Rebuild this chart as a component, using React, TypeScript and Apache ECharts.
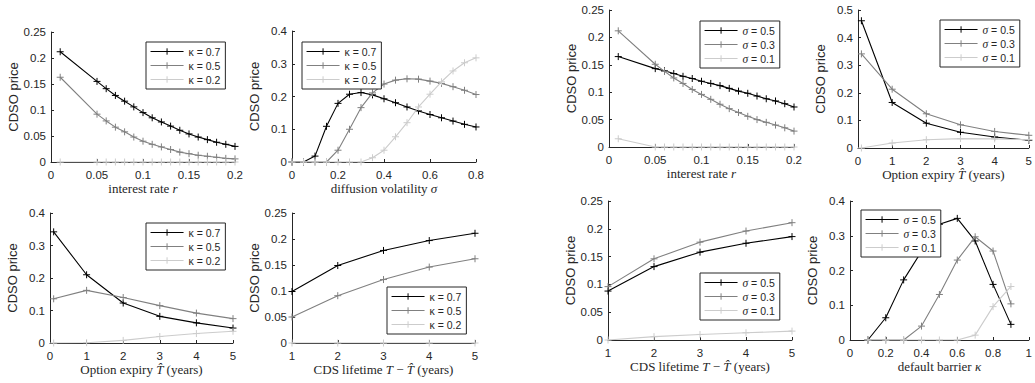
import React, { useEffect, useRef } from "react";
import * as echarts from "echarts";

// x grids
const rateGrid = [0.01, 0.05, 0.06, 0.07, 0.08, 0.09, 0.1, 0.11, 0.12, 0.13, 0.14, 0.15, 0.16, 0.17, 0.18, 0.19, 0.2];
const volGrid = [0, 0.05, 0.1, 0.15, 0.2, 0.25, 0.3, 0.35, 0.4, 0.45, 0.5, 0.55, 0.6, 0.65, 0.7, 0.75, 0.8];
const expiryGrid = [0.1, 1, 2, 3, 4, 5];
const lifetimeGrid = [1, 2, 3, 4, 5];
const barrierGrid = [0.1, 0.2, 0.3, 0.4, 0.5, 0.6, 0.7, 0.8, 0.9];

const kappaLabels = ["κ = 0.7", "κ = 0.5", "κ = 0.2"];
const sigmaLabels = ["σ = 0.5", "σ = 0.3", "σ = 0.1"];

// CDSO price vs interest rate, for three barriers
const rateK07 = [0.212, 0.155, 0.141, 0.128, 0.117, 0.106, 0.095, 0.085, 0.077, 0.069, 0.061, 0.054, 0.048, 0.043, 0.038, 0.034, 0.03];
const rateK05 = [0.163, 0.092, 0.079, 0.067, 0.058, 0.048, 0.04, 0.034, 0.029, 0.024, 0.019, 0.016, 0.013, 0.011, 0.009, 0.007, 0.006];
const rateK02 = [0, 0, 0, 0, 0, 0, 0, 0, 0, 0, 0, 0, 0, 0, 0, 0, 0];

// CDSO price vs diffusion volatility
const volK07 = [0, 0, 0.018, 0.109, 0.179, 0.207, 0.212, 0.205, 0.193, 0.181, 0.168, 0.156, 0.145, 0.135, 0.125, 0.115, 0.107];
const volK05 = [0, 0, 0, 0, 0.036, 0.1, 0.166, 0.211, 0.238, 0.25, 0.254, 0.253, 0.247, 0.24, 0.23, 0.219, 0.206];
const volK02 = [0, 0, 0, 0, 0, 0, 0, 0.013, 0.036, 0.077, 0.12, 0.168, 0.207, 0.245, 0.278, 0.303, 0.318];

// CDSO price vs option expiry
const expK07 = [0.342, 0.21, 0.123, 0.082, 0.062, 0.046];
const expK05 = [0.136, 0.162, 0.14, 0.115, 0.092, 0.075];
const expK02 = [0, 0.001, 0.008, 0.02, 0.029, 0.036];

// CDSO price vs CDS lifetime
const lifeK07 = [0.099, 0.149, 0.178, 0.197, 0.211];
const lifeK05 = [0.05, 0.091, 0.122, 0.146, 0.162];
const lifeK02 = [0, 0, 0, 0, 0];

// Same sweeps for three volatilities
const rateS05 = [0.165, 0.143, 0.139, 0.134, 0.129, 0.125, 0.12, 0.116, 0.112, 0.107, 0.102, 0.098, 0.093, 0.088, 0.084, 0.079, 0.073];
const rateS03 = [0.212, 0.151, 0.138, 0.126, 0.116, 0.105, 0.096, 0.087, 0.078, 0.07, 0.063, 0.056, 0.05, 0.045, 0.04, 0.035, 0.029];
const rateS01 = [0.015, 0, 0, 0, 0, 0, 0, 0, 0, 0, 0, 0, 0, 0, 0, 0, 0];

const expS05 = [0.461, 0.165, 0.09, 0.057, 0.04, 0.028];
const expS03 = [0.341, 0.213, 0.124, 0.084, 0.06, 0.046];
const expS01 = [0, 0.018, 0.03, 0.034, 0.033, 0.03];

const lifeS05 = [0.088, 0.132, 0.158, 0.174, 0.186];
const lifeS03 = [0.096, 0.146, 0.176, 0.196, 0.211];
const lifeS01 = [0, 0.006, 0.01, 0.013, 0.016];

const barS05 = [0, 0.064, 0.173, 0.255, 0.333, 0.35, 0.285, 0.16, 0.045];
const barS03 = [0, 0, 0, 0.04, 0.131, 0.23, 0.297, 0.256, 0.104];
const barS01 = [0, 0, 0, 0, 0, 0, 0.014, 0.096, 0.154];

const lineColors = ["#000000", "#808080", "#cccccc"];
const axisColor = "#262626";
const plusMarker = "path://M0,5L10,5M5,0L5,10";

type Panel = {
  rect: [number, number, number, number];
  x: [number, number, number];
  y: [number, number, number];
  xName: string;
  xs: number[];
  ys: number[][];
  labels: string[];
  legendAt: [number, number];
};

const panels: Panel[] = [
  { rect: [51, 32, 184, 130], x: [0, 0.2, 0.05], y: [0, 0.25, 0.05], xName: "interest rate {i|r}", xs: rateGrid, ys: [rateK07, rateK05, rateK02], labels: kappaLabels, legendAt: [146, 42] },
  { rect: [292, 31, 184, 131], x: [0, 0.8, 0.2], y: [0, 0.4, 0.1], xName: "diffusion volatility {i|σ}", xs: volGrid, ys: [volK07, volK05, volK02], labels: kappaLabels, legendAt: [302, 42] },
  { rect: [50, 213, 183, 130], x: [0, 5, 1], y: [0, 0.4, 0.1], xName: "Option expiry {i|T̂} (years)", xs: expiryGrid, ys: [expK07, expK05, expK02], labels: kappaLabels, legendAt: [146, 223] },
  { rect: [292, 213, 183, 130], x: [1, 5, 1], y: [0, 0.25, 0.05], xName: "CDS lifetime {i|T} − {i|T̂} (years)", xs: lifetimeGrid, ys: [lifeK07, lifeK05, lifeK02], labels: kappaLabels, legendAt: [387, 287] },
  { rect: [609, 10, 185, 137], x: [0, 0.2, 0.05], y: [0, 0.25, 0.05], xName: "interest rate {i|r}", xs: rateGrid, ys: [rateS05, rateS03, rateS01], labels: sigmaLabels, legendAt: [700, 21] },
  { rect: [858, 10, 176, 138], x: [0, 5, 1], y: [0, 0.5, 0.1], xName: "Option expiry {i|T̂} (years)", xs: expiryGrid, ys: [expS05, expS03, expS01], labels: sigmaLabels, legendAt: [940, 20] },
  { rect: [608, 201, 184, 139], x: [1, 5, 1], y: [0, 0.25, 0.05], xName: "CDS lifetime {i|T} − {i|T̂} (years)", xs: lifetimeGrid, ys: [lifeS05, lifeS03, lifeS01], labels: sigmaLabels, legendAt: [700, 273] },
  { rect: [850, 201, 183, 139], x: [0, 1, 0.2], y: [0, 0.4, 0.1], xName: "default barrier {i|κ}", xs: barrierGrid, ys: [barS05, barS03, barS01], labels: sigmaLabels, legendAt: [861, 210] },
];

function buildOption() {
  const grid: any[] = [];
  const xAxis: any[] = [];
  const yAxis: any[] = [];
  const series: any[] = [];
  const legend: any[] = [];

  const axisCommon = {
    axisLine: { show: true, lineStyle: { color: axisColor, width: 1 } },
    axisTick: { show: true, inside: true, length: 3, lineStyle: { color: axisColor } },
    splitLine: { show: false },
    axisLabel: { color: axisColor, fontFamily: "Liberation Sans", fontSize: 11.5 },
  };

  panels.forEach((p, k) => {
    grid.push({ left: p.rect[0], top: p.rect[1], width: p.rect[2], height: p.rect[3], containLabel: false });
    xAxis.push({
      type: "value",
      gridIndex: k,
      min: p.x[0],
      max: p.x[1],
      interval: p.x[2],
      ...axisCommon,
      axisLabel: { ...axisCommon.axisLabel, margin: 7, showMaxLabel: true },
      name: p.xName,
      nameLocation: "middle",
      nameGap: 19,
      nameTextStyle: {
        color: axisColor,
        fontFamily: "Liberation Serif",
        fontSize: 13,
        rich: { i: { fontStyle: "italic", fontFamily: "Liberation Serif", fontSize: 13, color: axisColor } },
      },
    });
    yAxis.push({
      type: "value",
      gridIndex: k,
      min: p.y[0],
      max: p.y[1],
      interval: p.y[2],
      ...axisCommon,
      axisLabel: { ...axisCommon.axisLabel, margin: 5 },
      name: "CDSO price",
      nameLocation: "middle",
      nameGap: 31,
      nameTextStyle: { color: axisColor, fontFamily: "Liberation Sans", fontSize: 13 },
    });
    p.ys.forEach((vals, j) => {
      series.push({
        type: "line",
        name: p.labels[j],
        xAxisIndex: k,
        yAxisIndex: k,
        data: p.xs.map((xv, i) => [xv, vals[i]]),
        symbol: plusMarker,
        symbolSize: 7,
        showAllSymbol: true,
        lineStyle: { color: lineColors[j], width: 1.1 },
        itemStyle: { color: lineColors[j], borderColor: lineColors[j], borderWidth: 1 },
        emphasis: { disabled: true },
        z: 2 + j,
      });
    });
    legend.push({
      left: p.legendAt[0],
      top: p.legendAt[1],
      orient: "vertical",
      backgroundColor: "#ffffff",
      borderColor: "#262626",
      borderWidth: 1,
      padding: [3, 5, 3, 4],
      itemGap: 1,
      itemWidth: 33,
      itemHeight: 8,
      selectedMode: false,
      z: 10,
      data: p.labels.map((n, j) => ({
        name: n,
        itemStyle: { color: lineColors[j], borderColor: lineColors[j], borderWidth: 1 },
        lineStyle: { color: lineColors[j], width: 1.1 },
      })),
      formatter: (name: string) => name.replace(/^σ/, "{g|σ}"),
      textStyle: {
        color: axisColor,
        fontFamily: "Liberation Sans",
        fontSize: 10.5,
        lineHeight: 13,
        rich: { g: { fontStyle: "italic", fontFamily: "Liberation Serif", fontSize: 11.5, color: axisColor } },
      },
    });
  });

  return { animation: false, backgroundColor: "#ffffff", grid, xAxis, yAxis, series, legend };
}

export default function App() {
  const ref = useRef<HTMLDivElement>(null);
  useEffect(() => {
    if (!ref.current) return;
    const chart = echarts.init(ref.current, undefined, { renderer: "svg" });
    chart.setOption(buildOption());
    return () => chart.dispose();
  }, []);
  return (
    <div
      ref={ref}
      style={{ position: "fixed", left: 0, top: 0, width: 1035, height: 383, background: "#fff" }}
    />
  );
}
